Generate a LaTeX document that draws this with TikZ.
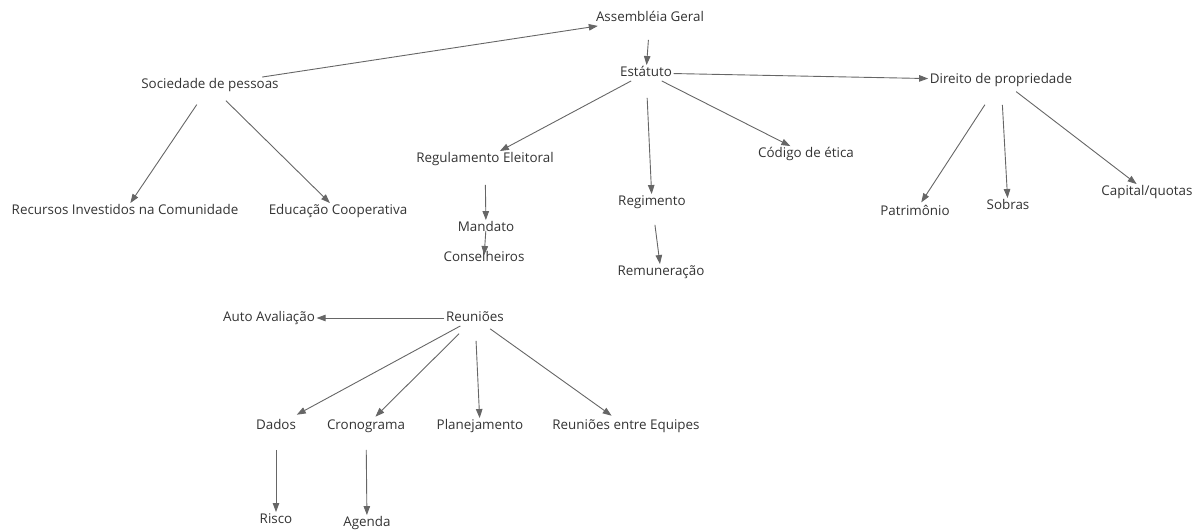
\documentclass[tikz,border=0pt]{standalone}
\usepackage{fontspec}
\setmainfont{Open Sans}
\usetikzlibrary{arrows.meta,positioning}
\tikzset{
	%Define standard arrow tip
	>={Triangle[length=9pt,width=6.5pt]},
	%Define style for terms
	termo/.style={
		inner sep=1.5pt,
		text height=9.5pt,
		text depth=3pt,
		font=\fontsize{13.4}{15}\selectfont,
		text=black!80},
	% Define arrow style
	seta/.style={
		->,
		draw=black!60,
		line width=0.9pt,
		shorten <=0pt,
		shorten >=0pt,}
}
\begin{document}
\begin{tikzpicture}[x=1pt, y=-1pt, on grid]
	\useasboundingbox (0,0) rectangle (1203,532);
	
	\node[termo] (assemb) at (650,18) {Assembléia Geral};
	\node[termo, below left =55pt and 4pt of assemb] (estatuto) {Estátuto};
	\node[termo, below left =67pt and 440pt of assemb] (sociedade) {Sociedade de pessoas};
	\node[termo, below right =7pt and 355pt of estatuto] (direito) {Direito de propriedade};
	
	\node[termo, below left =126pt and 85pt of sociedade] (recursos) {Recursos Investidos na Comunidade};
	\node[termo, below right =126pt and 128pt of sociedade] (educacao) {Educação Cooperativa};
	
	\node[termo, below left =86pt and 161pt of estatuto] (regul) {Regulamento Eleitoral};
	\node[termo, below right =81pt and 160pt of estatuto] (codigo) {Código de ética};
	\node[termo, below right =129pt and 6pt of estatuto] (regimento) {Regimento};
	\node[termo, below right =69pt and 1pt of regul] (mandato) {Mandato};
	\node[termo, below left =30pt and 2pt of mandato] (conselheiros) {Conselheiros};
	\node[termo, below right =70pt and 9pt of regimento] (remuner) {Remuneração};
	
	\node[termo, below left =132pt and 86pt of direito] (patrim) {Patrimônio};
	\node[termo, below right =126pt and 7pt of direito] (sobras) {Sobras};
	\node[termo, below right =112pt and 146pt of direito] (capital) {Capital/quotas};
	
	\node[termo, below left =159pt and 10pt of regul] (reunioes) {Reuniões};
	\node[termo, left =206pt of reunioes] (auto) {Auto Avaliação};
	\node[termo, below left =108pt and 199pt of reunioes] (dados) {Dados};
	\node[termo, right =90pt of dados] (crono) {Cronograma};
	\node[termo, right =114pt of crono] (planej) {Planejamento};
	\node[termo, right =146pt of planej] (equipes) {Reuniões entre Equipes};
	\node[termo, below =94pt of dados] (risco) {Risco};
	\node[termo, below right =97pt and 1pt of crono] (agenda) {Agenda};
	
	% upper part
	\draw[seta] (sociedade) -- (assemb);
	\draw[seta, shorten <=14pt] (assemb) -- (estatuto);
	\draw[seta] (estatuto) -- (direito);
	\draw[seta] (estatuto) -- (regul);
	\draw[seta, shorten <=17pt] (estatuto) -- (regimento);
	\draw[seta] (estatuto) -- (codigo);
	\draw[seta, shorten <=18pt] (regul) -- (mandato);
	\draw[seta, shorten <=-5pt, shorten >=-5pt] (mandato) -- (conselheiros);
	\draw[seta, shorten <=15pt] (regimento) -- (remuner);
	\draw[seta, shorten <=14pt] (sociedade) -- (recursos);
	\draw[seta, shorten <=11pt] (sociedade) -- (educacao);
	\draw[seta, shorten <=20pt, shorten >=2pt] (direito) -- (patrim);
	\draw[seta, shorten <=17pt] (direito) -- (sobras);
	\draw[seta, shorten <=6pt] (direito) -- (capital);
	
	% lower part
	\draw[seta] (reunioes) -- (auto);
	\draw[seta, shorten >=7pt] (reunioes) -- (dados);
	\draw[seta, shorten <=11pt, shorten >=2pt] (reunioes) -- (crono);
	\draw[seta, shorten <=15pt] (reunioes) -- (planej);
	\draw[seta, shorten <=5pt, shorten >=4pt] (reunioes) -- (equipes);
	\draw[seta, shorten <=16pt] (dados) -- (risco);
	\draw[seta, shorten <=16pt] (crono) -- (agenda);
	
\end{tikzpicture}
\end{document}
